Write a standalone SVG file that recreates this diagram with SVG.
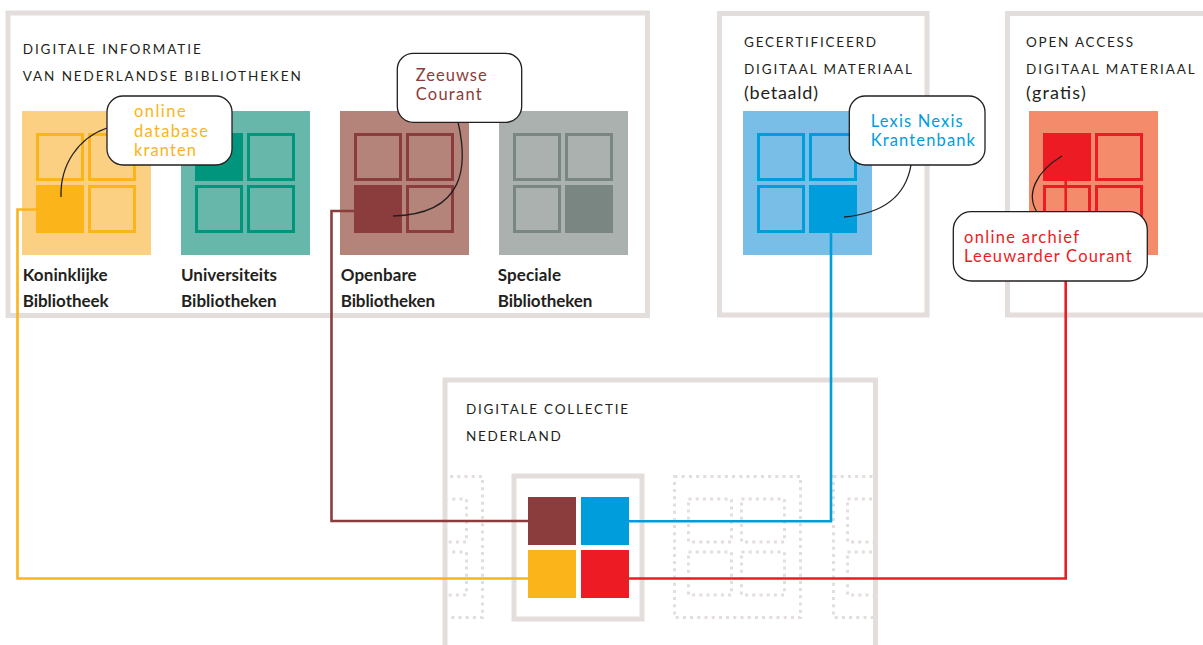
<svg xmlns="http://www.w3.org/2000/svg" width="1203" height="645" viewBox="0 0 1203 645">
<style>
.frame{fill:none;stroke:#e3dedb;stroke-width:5}
.hdr{font-family:Lato,"Open Sans",sans-serif;font-size:13.5px;fill:#231f20;letter-spacing:2px}
.sub{font-family:Lato,"Open Sans",sans-serif;font-size:18px;fill:#231f20}
.lbl{font-family:Lato,"Open Sans",sans-serif;font-size:17px;font-weight:700;fill:#231f20}
.ct{font-family:Lato,"Open Sans",sans-serif;font-size:16.5px}
.bubble{fill:#fff;stroke:#231f20;stroke-width:1.3}
.lead{fill:none;stroke:#231f20;stroke-width:1.3}
.sq{stroke-width:3}
.conn{fill:none;stroke-width:2.6}
.dot{fill:none;stroke:#e3dedb;stroke-width:3;stroke-dasharray:3 4.2}
</style>
<defs>
<clipPath id="clipC"><rect x="447.5" y="382.5" width="425.5" height="263"/></clipPath>
<g id="dotgrid">
<rect class="dot" x="1.5" y="1.5" width="126" height="141"/>
<rect class="dot" x="15.5" y="24" width="43" height="43"/>
<rect class="dot" x="68.5" y="24" width="43" height="43"/>
<rect class="dot" x="15.5" y="77" width="43" height="43"/>
<rect class="dot" x="68.5" y="77" width="43" height="43"/>
</g>
</defs>
<rect width="1203" height="645" fill="#fff"/>

<g id="box-nl">
<rect class="frame" x="8" y="13" width="639.5" height="302.5"/>
<text class="hdr" x="22.7" y="54" textLength="180" lengthAdjust="spacing">DIGITALE INFORMATIE</text>
<text class="hdr" x="22.7" y="81" textLength="280" lengthAdjust="spacing">VAN NEDERLANDSE BIBLIOTHEKEN</text>
</g>

<g id="box-betaald">
<rect class="frame" x="719.5" y="13.5" width="207.5" height="301.5"/>
<text class="hdr" x="744" y="47.3" textLength="134" lengthAdjust="spacing">GECERTIFICEERD</text>
<text class="hdr" x="744" y="74" textLength="170" lengthAdjust="spacing">DIGITAAL MATERIAAL</text>
<text class="sub" x="744" y="99" textLength="74" lengthAdjust="spacing">(betaald)</text>
</g>

<g id="box-gratis">
<rect class="frame" x="1007.5" y="13.5" width="210" height="301.5"/>
<text class="hdr" x="1026" y="47.3" textLength="109" lengthAdjust="spacing">OPEN ACCESS</text>
<text class="hdr" x="1026" y="74" textLength="170.7" lengthAdjust="spacing">DIGITAAL MATERIAAL</text>
<text class="sub" x="1026" y="99" textLength="59.7" lengthAdjust="spacing">(gratis)</text>
</g>

<g id="box-collectie">
<rect class="frame" x="445" y="380" width="430.5" height="300"/>
<text class="hdr" x="466" y="413.7" textLength="164" lengthAdjust="spacing">DIGITALE COLLECTIE</text>
<text class="hdr" x="466" y="440.7" textLength="96.7" lengthAdjust="spacing">NEDERLAND</text>
<g clip-path="url(#clipC)">
<use href="#dotgrid" x="355" y="475"/>
<use href="#dotgrid" x="673" y="475"/>
<use href="#dotgrid" x="832" y="475"/>
</g>
</g>

<g id="kb">
<rect x="22" y="111" width="129" height="144" fill="#fcd083"/>
<g class="sq" fill="none" stroke="#fbb419">
<rect x="37.5" y="134.5" width="45" height="45"/>
<rect x="89.5" y="134.5" width="45" height="45"/>
<rect x="89.5" y="186.5" width="45" height="45"/>
</g>
<rect x="36" y="185" width="48" height="48" fill="#fbb419"/>
<text class="lbl" x="22.7" y="281" textLength="85" lengthAdjust="spacing">Koninklijke</text>
<text class="lbl" x="22.7" y="306.7" textLength="86" lengthAdjust="spacing">Bibliotheek</text>
</g>

<g id="ub">
<rect x="181" y="111" width="129" height="144" fill="#67b8aa"/>
<g class="sq" fill="none" stroke="#00957c">
<rect x="248.5" y="134.5" width="45" height="45"/>
<rect x="196.5" y="186.5" width="45" height="45"/>
<rect x="248.5" y="186.5" width="45" height="45"/>
</g>
<rect x="195" y="133" width="48" height="48" fill="#00957c"/>
<text class="lbl" x="181" y="281" textLength="96" lengthAdjust="spacing">Universiteits</text>
<text class="lbl" x="181" y="306.7" textLength="95.7" lengthAdjust="spacing">Bibliotheken</text>
</g>

<g id="ob">
<rect x="340" y="111" width="129" height="144" fill="#b48379"/>
<g class="sq" fill="none" stroke="#8b3c3c">
<rect x="355.5" y="134.5" width="45" height="45"/>
<rect x="407.5" y="134.5" width="45" height="45"/>
<rect x="407.5" y="186.5" width="45" height="45"/>
</g>
<rect x="354" y="185" width="48" height="48" fill="#8b3c3c"/>
<text class="lbl" x="340.7" y="281" textLength="76" lengthAdjust="spacing">Openbare</text>
<text class="lbl" x="340.7" y="306.7" textLength="94.3" lengthAdjust="spacing">Bibliotheken</text>
</g>

<g id="sb">
<rect x="499" y="111" width="129" height="144" fill="#abb1ae"/>
<g class="sq" fill="none" stroke="#7a8681">
<rect x="514.5" y="134.5" width="45" height="45"/>
<rect x="566.5" y="134.5" width="45" height="45"/>
<rect x="514.5" y="186.5" width="45" height="45"/>
</g>
<rect x="565" y="185" width="48" height="48" fill="#7a8681"/>
<text class="lbl" x="497.7" y="281" textLength="63.3" lengthAdjust="spacing">Speciale</text>
<text class="lbl" x="497.7" y="306.7" textLength="94.6" lengthAdjust="spacing">Bibliotheken</text>
</g>

<g id="lexis">
<rect x="743" y="111" width="129" height="144" fill="#78bee7"/>
<g class="sq" fill="none" stroke="#009ddc">
<rect x="758.5" y="134.5" width="45" height="45"/>
<rect x="810.5" y="134.5" width="45" height="45"/>
<rect x="758.5" y="186.5" width="45" height="45"/>
</g>
<rect x="809" y="185" width="48" height="48" fill="#009ddc"/>
</g>

<g id="lc">
<rect x="1029" y="111" width="129" height="144" fill="#f48c6b"/>
<g class="sq" fill="none" stroke="#ed1c24">
<rect x="1096.5" y="134.5" width="45" height="45"/>
<rect x="1044.5" y="186.5" width="45" height="45"/>
<rect x="1096.5" y="186.5" width="45" height="45"/>
</g>
<rect x="1043" y="133" width="48" height="48" fill="#ed1c24"/>
</g>

<g id="dcn-core">
<rect class="frame" x="514" y="476" width="128" height="143"/>
<rect x="528" y="497" width="48" height="48" fill="#8b3c3c"/>
<rect x="581" y="497" width="48" height="48" fill="#009ddc"/>
<rect x="528" y="550" width="48" height="48" fill="#fbb419"/>
<rect x="581" y="550" width="48" height="48" fill="#ed1c24"/>
</g>

<g id="connectors">
<path class="conn" stroke="#fbb419" d="M36,209.5 H17.5 V578.5 H528"/>
<path class="conn" stroke="#8b3c3c" d="M354,211 H331.5 V521 H528"/>
<path class="conn" stroke="#009ddc" d="M831,233 V521.3 H629"/>
<path class="conn" stroke="#ed1c24" d="M1065.7,181 V578.5 H629"/>
<path class="lead" d="M107,128 C78,138 60,165 61,197"/>
<path class="lead" d="M458,122 C468,165 466,214 393,216"/>
<path class="lead" d="M911,165 C905,200 878,214 844,217"/>
<path class="lead" d="M1062,156 C1035,172 1026,195 1037,212"/>
</g>

<g id="callout-kranten">
<rect class="bubble" x="107" y="96" width="125" height="69" rx="16"/>
<g class="ct" fill="#fbb419">
<text x="134" y="117" textLength="51.7" lengthAdjust="spacing">online</text>
<text x="134" y="137" textLength="74" lengthAdjust="spacing">database</text>
<text x="134" y="156" textLength="62" lengthAdjust="spacing">kranten</text>
</g>
</g>

<g id="callout-zeeuwse">
<rect class="bubble" x="397.3" y="53.3" width="124.4" height="69" rx="16"/>
<g class="ct" fill="#8b3c3c">
<text x="415.7" y="80.7" textLength="71" lengthAdjust="spacing">Zeeuwse</text>
<text x="415.7" y="100" textLength="66" lengthAdjust="spacing">Courant</text>
</g>
</g>

<g id="callout-lexis">
<rect class="bubble" x="849.3" y="96" width="135.7" height="69" rx="16"/>
<g class="ct" fill="#009ddc">
<text x="870.7" y="127.3" textLength="92" lengthAdjust="spacing">Lexis Nexis</text>
<text x="870.7" y="145.7" textLength="104.3" lengthAdjust="spacing">Krantenbank</text>
</g>
</g>

<g id="callout-leeuwarder">
<rect class="bubble" x="953.3" y="211.7" width="194" height="69.3" rx="18"/>
<g class="ct" fill="#ed1c24">
<text x="964" y="243.3" textLength="115" lengthAdjust="spacing">online archief</text>
<text x="964" y="261.7" textLength="167.7" lengthAdjust="spacing">Leeuwarder Courant</text>
</g>
</g>
</svg>
